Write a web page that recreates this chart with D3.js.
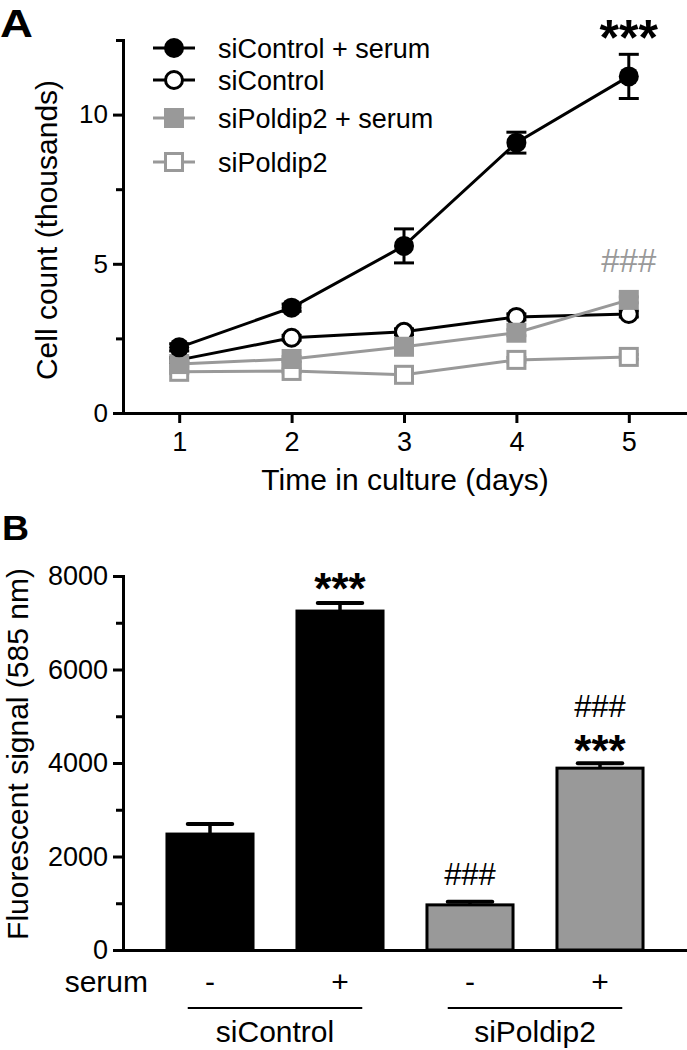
<!DOCTYPE html>
<html>
<head>
<meta charset="utf-8">
<script src="https://cdn.jsdelivr.net/npm/d3@7"></script>
<style>
  html, body { margin: 0; padding: 0; background: #fff; }
  svg { display: block; }
  text { font-family: "Liberation Sans", Arial, sans-serif; fill: #000; }
</style>
</head>
<body>
<svg id="chart" width="687" height="1050"></svg>
<script>
// ---------- Panel A data ----------
const days = [1, 2, 3, 4, 5];
const seriesNames = ["siControl + serum", "siControl", "siPoldip2 + serum", "siPoldip2"];
const ctrlSerum = [2.2, 3.53, 5.6, 9.06, 11.28];
const ctrlSerumErr = [0.12, 0.12, 0.57, 0.35, 0.74];
const ctrl = [1.78, 2.52, 2.72, 3.22, 3.32];
const ctrlErr = [0.08, 0.08, 0.1, 0.1, 0.1];
const poldipSerum = [1.64, 1.81, 2.22, 2.69, 3.79];
const poldipSerumErr = [0.08, 0.08, 0.1, 0.1, 0.1];
const poldip = [1.38, 1.41, 1.28, 1.78, 1.88];
const poldipErr = [0.06, 0.06, 0.08, 0.08, 0.08];
const yTicksA = [0, 5, 10];
const yMinorA = [2.5, 7.5, 12.5];

// ---------- Panel B data ----------
const barCats = ["siControl -", "siControl +", "siPoldip2 -", "siPoldip2 +"];
const serumLabels = ["-", "+", "-", "+"];
const groupLabels = ["siControl", "siPoldip2"];
const barValues = [2480, 7250, 965, 3890];
const barErr = [215, 170, 65, 105];
const yTicksB = [0, 2000, 4000, 6000, 8000];
const yMinorB = [1000, 3000, 5000, 7000];

const GRAY = "#999999";
const svg = d3.select("#chart");

// =================== PANEL A ===================
const xA = d3.scaleLinear().domain([0.5, 5.5]).range([123, 685]);
const yA = d3.scaleLinear().domain([0, 12.5]).range([413, 40]);

const gA = svg.append("g");

function styleAxis(g, fs) {
  g.attr("font-size", null).attr("font-family", null);
  g.selectAll("path.domain").attr("stroke", "#000").attr("stroke-width", 3).attr("stroke-linecap", "square");
  g.selectAll(".tick line").attr("stroke", "#000").attr("stroke-width", 3);
  g.selectAll(".tick text").attr("font-family", '"Liberation Sans", Arial, sans-serif')
    .attr("font-size", fs || 26).style("fill", "#000");
}

const yAxisA = gA.append("g").attr("transform", "translate(123,0)")
  .call(d3.axisLeft(yA).tickValues(yTicksA).tickSize(10).tickSizeOuter(0).tickPadding(5).tickFormat(d3.format("d")));
styleAxis(yAxisA, 26);
const yMinA = gA.append("g").attr("transform", "translate(123,0)")
  .call(d3.axisLeft(yA).tickValues(yMinorA).tickSize(7).tickFormat(""));
yMinA.select("path.domain").remove();
styleAxis(yMinA);

const xAxisA = gA.append("g").attr("transform", "translate(0,413)")
  .call(d3.axisBottom(xA).tickValues(days).tickSize(10).tickSizeOuter(0).tickPadding(9).tickFormat(d3.format("d")));
styleAxis(xAxisA, 27);

gA.append("text").attr("transform", "translate(0,37) scale(1.2,1)").attr("font-size", 38).attr("font-weight", "bold").text("A");
gA.append("text").attr("transform", "translate(57,230) rotate(-90)").attr("text-anchor", "middle")
  .attr("font-size", 30).text("Cell count (thousands)");
gA.append("text").attr("x", 405).attr("y", 490).attr("text-anchor", "middle")
  .attr("font-size", 30).text("Time in culture (days)");

const seriesA = [
  { name: seriesNames[3], vals: poldip, err: poldipErr, color: GRAY, shape: "square", filled: false },
  { name: seriesNames[1], vals: ctrl, err: ctrlErr, color: "#000", shape: "circle", filled: false },
  { name: seriesNames[2], vals: poldipSerum, err: poldipSerumErr, color: GRAY, shape: "square", filled: true },
  { name: seriesNames[0], vals: ctrlSerum, err: ctrlSerumErr, color: "#000", shape: "circle", filled: true }
];

function drawMarker(g, s, cx, cy) {
  if (s.shape === "circle") {
    if (s.filled) g.append("circle").attr("cx", cx).attr("cy", cy).attr("r", 10).attr("fill", s.color);
    else g.append("circle").attr("cx", cx).attr("cy", cy).attr("r", 8.5).attr("fill", "#fff")
      .attr("stroke", s.color).attr("stroke-width", 3);
  } else {
    if (s.filled) g.append("rect").attr("x", cx - 10).attr("y", cy - 10).attr("width", 20).attr("height", 20).attr("fill", s.color);
    else g.append("rect").attr("x", cx - 8.5).attr("y", cy - 8.5).attr("width", 17).attr("height", 17)
      .attr("fill", "#fff").attr("stroke", s.color).attr("stroke-width", 3);
  }
}

const line = d3.line().x((d, i) => xA(days[i])).y(d => yA(d));
seriesA.forEach(s => {
  const g = gA.append("g");
  g.append("path").datum(s.vals).attr("d", line).attr("fill", "none")
    .attr("stroke", s.color).attr("stroke-width", 3);
  s.vals.forEach((v, i) => {
    const cx = xA(days[i]);
    const y0 = yA(v - s.err[i]), y1 = yA(v + s.err[i]);
    g.append("line").attr("x1", cx).attr("x2", cx).attr("y1", y0).attr("y2", y1).attr("stroke", s.color).attr("stroke-width", 3);
    [y0, y1].forEach(yy => g.append("line").attr("x1", cx - 10).attr("x2", cx + 10).attr("y1", yy).attr("y2", yy)
      .attr("stroke", s.color).attr("stroke-width", 3));
  });
  s.vals.forEach((v, i) => drawMarker(g, s, xA(days[i]), yA(v)));
});

gA.append("text").attr("x", xA(5)).attr("y", yA(ctrlSerum[4] + ctrlSerumErr[4]) + 1)
  .attr("text-anchor", "middle").attr("font-size", 50).attr("font-weight", "bold").text("***");
gA.append("text").attr("x", xA(5)).attr("y", yA(poldipSerum[4]) - 28)
  .attr("text-anchor", "middle").attr("font-size", 33)
  .attr("font-family", '"Liberation Serif", "Times New Roman", serif').style("fill", GRAY).text("###");

const legY = [48, 80, 118, 162];
const legOrder = [seriesA[3], seriesA[1], seriesA[2], seriesA[0]];
legOrder.forEach((s, i) => {
  const g = gA.append("g");
  g.append("line").attr("x1", 153).attr("x2", 195).attr("y1", legY[i]).attr("y2", legY[i])
    .attr("stroke", s.color).attr("stroke-width", 3);
  drawMarker(g, s, 174, legY[i]);
  g.append("text").attr("x", 218).attr("y", legY[i]).attr("dy", "0.36em").attr("font-size", 27).text(s.name);
});

// =================== PANEL B ===================
const yB = d3.scaleLinear().domain([0, 8000]).range([950, 576]);
const xB = d3.scaleBand().domain(barCats).range([145, 665]).paddingInner(0.315).paddingOuter(0.1575);
const gB = svg.append("g");

barCats.forEach((c, i) => {
  const col = i < 2 ? "#000" : GRAY;
  gB.append("rect").attr("x", xB(c) + 1.5).attr("y", yB(barValues[i]))
    .attr("width", xB.bandwidth() - 3).attr("height", yB(0) - yB(barValues[i]))
    .attr("fill", col).attr("stroke", "#000").attr("stroke-width", 3);
  const cx = xB(c) + xB.bandwidth() / 2;
  const yt = yB(barValues[i] + barErr[i]);
  gB.append("line").attr("x1", cx).attr("x2", cx).attr("y1", yB(barValues[i])).attr("y2", yt)
    .attr("stroke", "#000").attr("stroke-width", 3.5);
  gB.append("line").attr("x1", cx - xB.bandwidth() / 4).attr("x2", cx + xB.bandwidth() / 4).attr("y1", yt).attr("y2", yt)
    .attr("stroke", "#000").attr("stroke-width", 4).attr("stroke-linecap", "round");
});

const yAxisB = gB.append("g").attr("transform", "translate(123,0)")
  .call(d3.axisLeft(yB).tickValues(yTicksB).tickSize(10).tickSizeOuter(0).tickPadding(5).tickFormat(d3.format("d")));
styleAxis(yAxisB, 27);
const yMinB = gB.append("g").attr("transform", "translate(123,0)")
  .call(d3.axisLeft(yB).tickValues(yMinorB).tickSize(7).tickFormat(""));
yMinB.select("path.domain").remove();
styleAxis(yMinB);
const xAxisB = gB.append("g").attr("transform", "translate(0,950)")
  .call(d3.axisBottom(d3.scaleLinear().range([123, 690])).tickValues([]).tickSizeOuter(0));
styleAxis(xAxisB);

gB.append("text").attr("transform", "translate(2,540) scale(1.07,1)").attr("font-size", 35).attr("font-weight", "bold").text("B");
gB.append("text").attr("transform", "translate(28,754) rotate(-90)").attr("text-anchor", "middle")
  .attr("font-size", 30).text("Fluorescent signal (585 nm)");

gB.append("text").attr("x", 148).attr("y", 992).attr("text-anchor", "end").attr("font-size", 30).text("serum");
barCats.forEach((c, i) => {
  gB.append("text").attr("x", xB(c) + xB.bandwidth() / 2).attr("y", 992).attr("text-anchor", "middle")
    .attr("font-size", 30).text(serumLabels[i]);
});
groupLabels.forEach((lab, gi) => {
  const c1 = barCats[gi * 2], c2 = barCats[gi * 2 + 1];
  const xs = xB(c1) + xB.bandwidth() * 0.25, xe = xB(c2) + xB.bandwidth() * 0.75;
  gB.append("line").attr("x1", xs).attr("x2", xe).attr("y1", 1008).attr("y2", 1008)
    .attr("stroke", "#000").attr("stroke-width", 1.8);
  gB.append("text").attr("x", (xs + xe) / 2).attr("y", 1042).attr("text-anchor", "middle")
    .attr("font-size", 30).text(lab);
});

function cxB(i) { return xB(barCats[i]) + xB.bandwidth() / 2; }
gB.append("text").attr("x", cxB(1)).attr("y", yB(barValues[1] + barErr[1]) + 1)
  .attr("text-anchor", "middle").attr("font-size", 44).attr("font-weight", "bold").text("***");
gB.append("text").attr("x", cxB(3)).attr("y", yB(barValues[3] + barErr[3]) + 3)
  .attr("text-anchor", "middle").attr("font-size", 44).attr("font-weight", "bold").text("***");
gB.append("text").attr("x", cxB(3)).attr("y", yB(barValues[3] + barErr[3]) - 46)
  .attr("text-anchor", "middle").attr("font-size", 31)
  .attr("font-family", '"Liberation Serif", "Times New Roman", serif').text("###");
gB.append("text").attr("x", cxB(2)).attr("y", yB(barValues[2] + barErr[2]) - 17)
  .attr("text-anchor", "middle").attr("font-size", 31)
  .attr("font-family", '"Liberation Serif", "Times New Roman", serif').text("###");
</script>
</body>
</html>
